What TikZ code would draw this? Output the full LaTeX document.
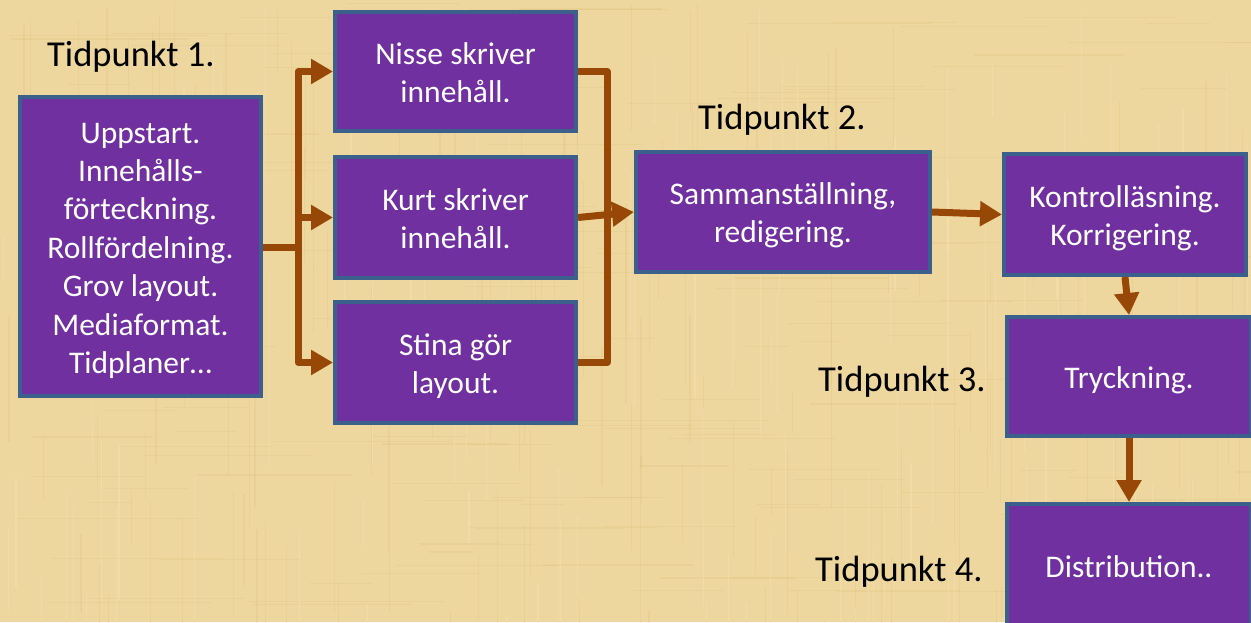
\documentclass[tikz,border=0pt]{standalone}
\usepackage{fontspec}
\setmainfont{Carlito}
\usetikzlibrary{arrows.meta}
\definecolor{papyrus}{RGB}{238,215,158}
\definecolor{papyrusdark}{RGB}{214,184,112}
\definecolor{papyruslight}{RGB}{248,232,190}
\definecolor{boxfill}{RGB}{112,48,160}
\definecolor{boxline}{RGB}{60,96,140}
\definecolor{conn}{RGB}{151,72,6}
\newcommand{\boxlines}[1]{\begin{tabular}{@{}c@{}}\rule{0pt}{35pt}#1\end{tabular}}
\tikzset{
  procbox/.style={draw=boxline, fill=boxfill, line width=4pt, text=white,
    inner sep=0pt, outer sep=2pt,
    font=\fontsize{31.5pt}{38.4pt}\selectfont},
  timelabel/.style={anchor=base west, inner sep=0pt, text=black,
    font=\fontsize{36.5pt}{44pt}\selectfont},
  connline/.style={draw=conn, line width=7pt, line join=round},
  connarrow/.style={connline, -{Triangle[length=22pt,width=24pt]}},
  fibre/.style={line width=1.2pt, opacity=0.18}
}
\begin{document}
\begin{tikzpicture}[x=1pt,y=-1pt]
\useasboundingbox (0,0) rectangle (1251,622);
\fill[papyrus] (0,0) rectangle (1251,622);
\begin{scope}
\clip (0,0) rectangle (1251,622);
% papyrus texture
\pgfmathsetseed{42}
\foreach \i in {1,...,160}{
  \pgfmathsetmacro{\xa}{rnd*1251}
  \pgfmathsetmacro{\ya}{rnd*622}
  \pgfmathsetmacro{\la}{40+rnd*160}
  \draw[fibre, papyrusdark] (\xa,\ya) -- ++(0,\la);
}
\foreach \i in {1,...,160}{
  \pgfmathsetmacro{\xa}{rnd*1251}
  \pgfmathsetmacro{\ya}{rnd*622}
  \pgfmathsetmacro{\la}{40+rnd*160}
  \draw[fibre, papyrusdark] (\xa,\ya) -- ++(\la,0);
}
\foreach \i in {1,...,120}{
  \pgfmathsetmacro{\xa}{rnd*1251}
  \pgfmathsetmacro{\ya}{rnd*622}
  \pgfmathsetmacro{\la}{40+rnd*160}
  \draw[fibre, papyruslight, opacity=0.35] (\xa,\ya) -- ++(0,\la);
}

\node[procbox, minimum width=241pt, minimum height=299pt] (A) at (140.5,246.5)
  {\boxlines{Uppstart.\\Innehålls-\\förteckning.\\Rollfördelning.\\Grov layout.\\Mediaformat.\\Tidplaner…}};
\node[procbox, minimum width=241pt, minimum height=119pt] (B) at (455.5,71.5) {\boxlines{Nisse skriver\\innehåll.}};
\node[procbox, minimum width=241pt, minimum height=121pt] (C) at (455.5,217.5) {\boxlines{Kurt skriver\\innehåll.}};
\node[procbox, minimum width=241pt, minimum height=121pt] (D) at (455.5,362.5) {\boxlines{Stina gör\\layout.}};
\node[procbox, minimum width=294pt, minimum height=120pt] (E) at (783,212) {\boxlines{Sammanställning,\\redigering.}};
\node[procbox, minimum width=242pt, minimum height=121pt] (F) at (1125,214.5) {\boxlines{Kontrolläsning.\\Korrigering.}};
\node[procbox, minimum width=244pt, minimum height=119pt] (G) at (1129,376.5) {\boxlines{Tryckning.}};
\node[procbox, minimum width=244pt, minimum height=124pt] (H) at (1129,566) {\boxlines{Distribution..}};

\node[timelabel] (T1) at (47,66) {Tidpunkt 1.};
\node[timelabel] (T2) at (698,129) {Tidpunkt 2.};
\node[timelabel] (T3) at (818,391) {Tidpunkt 3.};
\node[timelabel] (T4) at (815,581) {Tidpunkt 4.};

\coordinate (J) at (298,247);
\coordinate (K) at (607,217);
\draw[connline] (A.east |- J) -- (J);
\draw[connarrow] (J) |- (B.west);
\draw[connarrow] (J) |- (C.west);
\draw[connarrow] (J) |- (D.west);
\draw[connline] (B.east) -| (K) |- (D.east);
\draw[connarrow] (C.east) -- (E.west);
\draw[connarrow] (E.east) -- (F.west);
\draw[connarrow] (F.south) -- (G.north);
\draw[connarrow] (G.south) -- (H.north);
\end{scope}
\end{tikzpicture}
\end{document}
